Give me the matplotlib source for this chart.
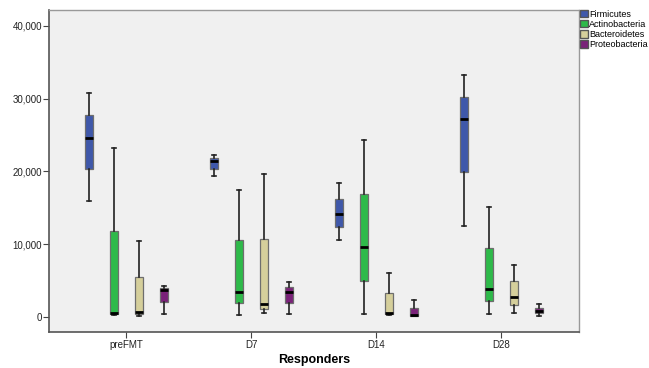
import matplotlib

matplotlib.use("Agg")
import matplotlib.pyplot as plt
from matplotlib.patches import Patch
from matplotlib.ticker import FuncFormatter

plt.rcParams["font.family"] = ["Liberation Sans", "DejaVu Sans"]

# === Data ===
days = ["preFMT", "D7", "D14", "D28"]
phyla = ["Firmicutes", "Actinobacteria", "Bacteroidetes", "Proteobacteria"]
colors = ["#3F58AA", "#2EBA4A", "#D5CF9B", "#7A2279"]

# per phylum: one value per day
whislo = {
    "Firmicutes": [15900, 19400, 10500, 12500],
    "Actinobacteria": [280, 280, 400, 400],
    "Bacteroidetes": [140, 500, 230, 600],
    "Proteobacteria": [370, 370, 100, 180],
}
q1 = {
    "Firmicutes": [20300, 20350, 12300, 19900],
    "Actinobacteria": [370, 1880, 5000, 2200],
    "Bacteroidetes": [370, 1100, 370, 1650],
    "Proteobacteria": [2000, 1880, 140, 500],
}
med = {
    "Firmicutes": [24600, 21400, 14150, 27250],
    "Actinobacteria": [590, 3430, 9550, 3900],
    "Bacteroidetes": [640, 1750, 500, 2700],
    "Proteobacteria": [3700, 3430, 230, 870],
}
q3 = {
    "Firmicutes": [27700, 21800, 16250, 30250],
    "Actinobacteria": [11850, 10500, 16900, 9500],
    "Bacteroidetes": [5500, 10700, 3250, 4950],
    "Proteobacteria": [3980, 4170, 1280, 1190],
}
whishi = {
    "Firmicutes": [30700, 22300, 18400, 33200],
    "Actinobacteria": [23200, 17500, 24300, 15150],
    "Bacteroidetes": [10400, 19600, 6000, 7200],
    "Proteobacteria": [4300, 4850, 2380, 1740],
}

offsets = [-0.3, -0.1, 0.1, 0.3]

fig = plt.figure(figsize=(6.49, 3.68), dpi=100)
ax = fig.add_axes([0.0755, 0.098, 0.8165, 0.875])
ax.set_facecolor("#F0F0F0")

for p, name in enumerate(phyla):
    stats = []
    for d in range(len(days)):
        stats.append(
            {
                "whislo": whislo[name][d],
                "q1": q1[name][d],
                "med": med[name][d],
                "q3": q3[name][d],
                "whishi": whishi[name][d],
                "fliers": [],
            }
        )
    positions = [d + offsets[p] for d in range(len(days))]
    ax.bxp(
        stats,
        positions=positions,
        widths=0.058,
        patch_artist=True,
        showfliers=False,
        boxprops=dict(facecolor=colors[p], edgecolor="#6E6E6E", linewidth=0.9),
        medianprops=dict(color="black", linewidth=2),
        whiskerprops=dict(color="#222222", linewidth=1.2),
        capprops=dict(color="#222222", linewidth=1.2),
        capwidths=0.03,
        manage_ticks=False,
    )

ax.set_xlim(-0.62, 3.62)
ax.set_ylim(-2060, 42170)
ax.set_xticks(range(len(days)))
ax.set_xticklabels(days, fontsize=7, color="#222222")
ax.set_yticks([0, 10000, 20000, 30000, 40000])
ax.yaxis.set_major_formatter(FuncFormatter(lambda v, _: f"{int(v):,}"))
ax.tick_params(axis="y", labelsize=7, labelcolor="#222222", length=4, color="#444444", pad=1)
ax.tick_params(axis="x", length=4, color="#444444", pad=2)
ax.set_xlabel("Responders", fontsize=9, fontweight="bold", labelpad=3)

for side in ["left", "bottom"]:
    ax.spines[side].set_color("#555555")
    ax.spines[side].set_linewidth(1.2)
for side in ["top", "right"]:
    ax.spines[side].set_color("#999999")
    ax.spines[side].set_linewidth(1.0)

handles = [Patch(facecolor=c, edgecolor="#555555", label=n) for c, n in zip(colors, phyla)]
fig.legend(
    handles=handles,
    loc="upper left",
    bbox_to_anchor=(0.891, 0.978),
    fontsize=6.5,
    frameon=False,
    handlelength=0.85,
    handleheight=0.85,
    handletextpad=0.15,
    labelspacing=0.12,
    borderaxespad=0.1,
    borderpad=0.1,
)

fig.savefig("out.png", dpi=100)
